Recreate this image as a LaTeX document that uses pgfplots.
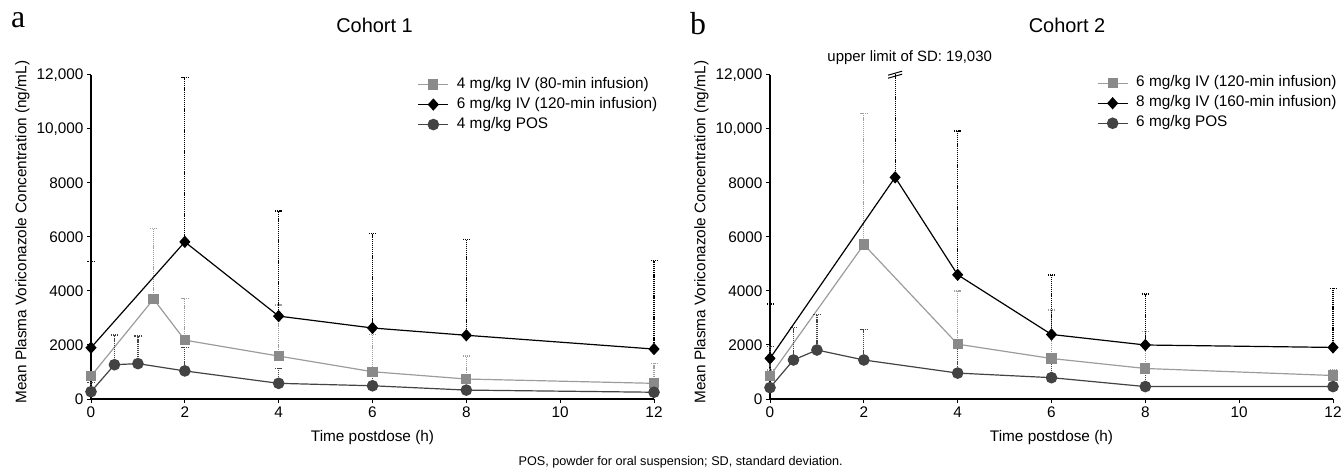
\documentclass[border=0pt]{standalone}
\usepackage{fontspec}
\setmainfont{Liberation Sans}
\newfontfamily\seriffont{Liberation Serif}
\usepackage{pgfplots}
\pgfplotsset{compat=1.18}

\definecolor{sqgray}{HTML}{8A8A8A}
\definecolor{sqline}{HTML}{9C9C9C}
\definecolor{sqerr}{HTML}{A0A0A0}
\definecolor{cirgray}{HTML}{434343}

\tikzset{errdots/.style={dash pattern=on 1.2bp off 0.9bp, line width=1.2bp}}

\pgfplotsset{
  cohort/.style={
    scale only axis, width=563bp, height=324bp,
    xmin=0, xmax=12, ymin=0, ymax=12000,
    axis lines*=left,
    axis line style={line width=1.3bp},
    tick style={line width=1bp, black},
    tick align=outside, major tick length=4bp,
    xtick={0,2,...,12}, ytick={0,2000,...,12000},
    yticklabels={0,2000,4000,6000,8000,{10,000},{12,000}},
    scaled y ticks=false,
    /pgf/number format/assume math mode=true,
    tick label style={font=\fontsize{15.4}{18}\selectfont},
    label style={font=\fontsize{15.4}{18}\selectfont, inner sep=0pt},
    xlabel={Time postdose (h)},
    ylabel={Mean Plasma Voriconazole Concentration (ng/mL)},
    xlabel style={at={(axis description cs:0.5,-0.1312)}, anchor=base},
    ylabel style={at={(axis description cs:-0.1146,0.515)}, anchor=base},
    clip=false,
    legend cell align=left,
    legend style={draw=none, fill=none, inner sep=0pt, anchor=north west,
      font=\fontsize{15.4}{18}\selectfont, row sep=0pt,
      /tikz/every odd column/.append style={column sep=5bp},
      nodes={inner xsep=3bp, inner ysep=2.5bp, text height=11bp, text depth=4bp}},
    legend image code/.code={\draw[mark repeat=2,mark phase=2]
      plot coordinates {(0bp,0bp) (15bp,0bp) (30bp,0bp)};},
  },
  sqplot/.style={color=sqline, line width=1.2bp, mark=square*, mark size=4.5bp,
    mark options={solid, draw=sqgray, fill=sqgray},
    error bars/.cd, y dir=plus, y explicit, error mark=-,
    error bar style={sqerr, errdots},
    error mark options={rotate=90, sqerr, errdots, mark size=3.5bp}},
  diplot/.style={color=black, line width=1.2bp, mark=diamond*, mark size=5.3bp,
    mark options={solid, fill=black, xscale=1.2},
    error bars/.cd, y dir=plus, y explicit, error mark=-,
    error bar style={black, errdots},
    error mark options={rotate=90, black, errdots, mark size=3.5bp}},
  ciplot/.style={color=cirgray, line width=1.2bp, mark=*, mark size=5.2bp,
    mark options={solid, draw=cirgray, fill=cirgray},
    error bars/.cd, y dir=plus, y explicit, error mark=-,
    error bar style={cirgray, errdots},
    error mark options={rotate=90, cirgray, errdots, mark size=3.5bp}},
}

\begin{document}
\begin{tikzpicture}
\useasboundingbox (0bp,0bp) rectangle (1344bp,468bp);

% panel a
\begin{axis}[cohort, at={(91bp,69bp)}, anchor=south west,
  legend style={at={(axis description cs:0.5800,1.002)}}]
\addplot[sqplot] coordinates {
  (0,850) +- (0,160)
  (1.333,3700) +- (0,2600)
  (2,2180) +- (0,1550)
  (4,1590) +- (0,1890)
  (6,1010) +- (0,1390)
  (8,740) +- (0,850)
  (12,580) +- (0,740)
};
\addlegendentry{4 mg/kg IV (80-min infusion)}
\addplot[diplot] coordinates {
  (0,1900) +- (0,3200)
  (2,5820) +- (0,6080)
  (4,3070) +- (0,3890)
  (6,2630) +- (0,3500)
  (8,2360) +- (0,3550)
  (12,1850) +- (0,3270)
};
\addlegendentry{6 mg/kg IV (120-min infusion)}
\addplot[ciplot] coordinates {
  (0,270) +- (0,350)
  (0.5,1270) +- (0,1100)
  (1,1310) +- (0,1020)
  (2,1040) +- (0,870)
  (4,580) +- (0,560)
  (6,490) +- (0,350)
  (8,330) +- (0,250)
  (12,250) +- (0,200)
};
\addlegendentry{4 mg/kg POS}
\end{axis}

% panel b
\begin{axis}[cohort, at={(770bp,69bp)}, anchor=south west,
  legend style={at={(axis description cs:0.5805,1.006)}}]
\addplot[sqplot] coordinates {
  (0,850) +- (0,225)
  (2,5720) +- (0,4860)
  (4,2030) +- (0,1970)
  (6,1500) +- (0,1800)
  (8,1130) +- (0,1360)
  (12,870) +- (0,230)
};
\addlegendentry{6 mg/kg IV (120-min infusion)}
\addplot[diplot] coordinates {
  (0,1505) +- (0,2015)
  (2.667,8210) +- (0,0)
  (4,4600) +- (0,5325)
  (6,2390) +- (0,2200)
  (8,2000) +- (0,1890)
  (12,1910) +- (0,2190)
};
\addlegendentry{8 mg/kg IV (160-min infusion)}
\addplot[ciplot] coordinates {
  (0,420) +- (0,1520)
  (0.5,1445) +- (0,1195)
  (1,1815) +- (0,1320)
  (2,1445) +- (0,1135)
  (4,960) +- (0,1030)
  (6,790) +- (0,700)
  (8,460) +- (0,650)
  (12,460) +- (0,400)
};
\addlegendentry{6 mg/kg POS}
% SD bar of the 160-min infusion peak, cut at the top of the axis
\addplot[forget plot, draw=none, mark=none,
  error bars/.cd, y dir=plus, y explicit, error mark=none,
  error bar style={black, errdots}]
  coordinates {(2.667,8210) +- (0,3820)};
\draw[line width=1bp] ([xshift=-7bp,yshift=-1bp]axis cs:2.667,12030) -- ++(14bp,4bp);
\draw[line width=1bp] ([xshift=-7bp,yshift=-4bp]axis cs:2.667,12030) -- ++(14bp,4bp);
\end{axis}

% panel letters, titles and notes
\node[anchor=base west, inner sep=0, font=\seriffont\fontsize{32}{36}\selectfont] at (11bp,440bp) {a};
\node[anchor=base west, inner sep=0, font=\seriffont\fontsize{32}{36}\selectfont] at (690bp,433bp) {b};
\node[anchor=base, inner sep=0, font=\fontsize{20}{24}\selectfont] at (374.5bp,435bp) {Cohort 1};
\node[anchor=base, inner sep=0, font=\fontsize{20}{24}\selectfont] at (1067bp,435bp) {Cohort 2};
\node[anchor=base, inner sep=0, font=\fontsize{15}{18}\selectfont] at (909.7bp,406bp) {upper limit of SD: 19,030};
\node[anchor=base, inner sep=0, font=\fontsize{12.7}{15}\selectfont] at (680.7bp,2.5bp) {POS, powder for oral suspension; SD, standard deviation.};
\end{tikzpicture}
\end{document}
